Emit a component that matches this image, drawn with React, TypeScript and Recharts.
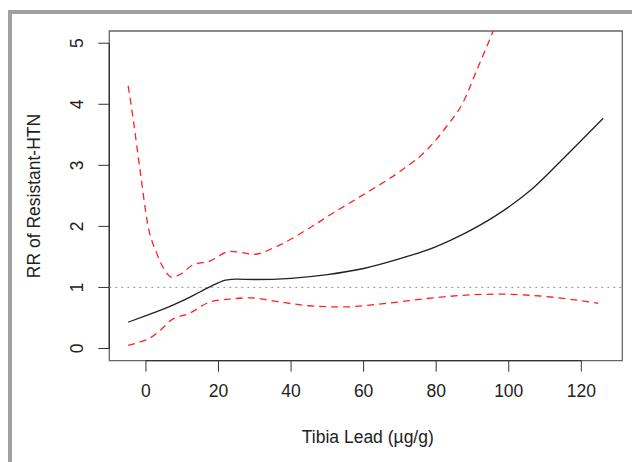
import React from 'react';
import { LineChart, Line, XAxis, YAxis, ReferenceLine, ReferenceArea } from 'recharts';

// fitted RR curve
const fitLead = [-4.9, 0, 5, 10, 15, 19, 22, 25, 30, 40, 50, 60, 70, 80, 88, 96, 106, 116, 126];
const fitRR = [0.43, 0.54, 0.65, 0.78, 0.93, 1.05, 1.12, 1.135, 1.13, 1.15, 1.21, 1.31, 1.47, 1.67, 1.89, 2.16, 2.59, 3.17, 3.77];

// upper 95% CI
const upperLead = [-4.9, -3.5, -1.65, 0.6, 2.9, 5, 7.1, 9, 13, 17.6, 23.2, 26.5, 29.6, 36, 45, 51.6, 60.8, 70, 77.4, 82.9, 87.5, 91.2, 95.3, 96.5];
const upperRR = [4.3, 3.75, 2.93, 2.0, 1.57, 1.3, 1.17, 1.2, 1.37, 1.43, 1.59, 1.57, 1.54, 1.67, 1.97, 2.22, 2.55, 2.9, 3.25, 3.64, 4.04, 4.56, 5.14, 5.32];

// lower 95% CI
const lowerLead = [-4.9, -2, 1.1, 4, 6.6, 12.1, 17.6, 23.2, 28.7, 36, 45, 54.4, 66.4, 79.2, 90.3, 97.6, 108.6, 124.7];
const lowerRR = [0.05, 0.1, 0.17, 0.3, 0.45, 0.58, 0.76, 0.81, 0.83, 0.77, 0.7, 0.68, 0.74, 0.83, 0.88, 0.89, 0.86, 0.74];

const xTicks = [0, 20, 40, 60, 80, 100, 120];
const yTicks = [0, 1, 2, 3, 4, 5];

const toRows = (xs: number[], ys: number[]) => xs.map((lead, i) => ({ lead, rr: ys[i] }));

const fitData = toRows(fitLead, fitRR);
const upperData = toRows(upperLead, upperRR);
const lowerData = toRows(lowerLead, lowerRR);

const FONT = '"Liberation Sans", Arial, sans-serif';
const X_DOMAIN: [number, number] = [-10.1, 131.3];
const Y_DOMAIN: [number, number] = [-0.2, 5.2];

function RotatedTick(props: any) {
  const { x, y, payload } = props;
  return (
    <text
      x={x}
      y={y}
      transform={`rotate(-90, ${x}, ${y})`}
      textAnchor="middle"
      fontSize={17.5}
      fontFamily={FONT}
      fill="#222"
    >
      {payload.value}
    </text>
  );
}

export default function App() {
  return (
    <div style={{ position: 'fixed', left: 0, top: 0, width: 632, height: 462, background: '#fff', overflow: 'hidden' }}>
      <div
        style={{
          position: 'absolute',
          left: 8,
          top: 10,
          width: 640,
          height: 470,
          borderLeft: '4px solid #a0a0a0',
          borderTop: '4px solid #a0a0a0',
          boxSizing: 'border-box',
        }}
      />
      <div style={{ position: 'absolute', left: 0, top: 0 }}>
        <LineChart width={632} height={462} margin={{ top: 31, right: 9.7, bottom: 61.3, left: 0 }}>
          <XAxis
            type="number"
            dataKey="lead"
            domain={X_DOMAIN}
            allowDataOverflow
            ticks={xTicks}
            height={40}
            axisLine={false}
            tickLine={{ stroke: '#333' }}
            tickSize={11}
            tickMargin={13}
            tick={{ fontSize: 17.5, fontFamily: FONT, fill: '#222' }}
          />
          <YAxis
            type="number"
            domain={Y_DOMAIN}
            allowDataOverflow
            ticks={yTicks}
            width={109.3}
            axisLine={false}
            tickLine={{ stroke: '#333' }}
            tickSize={11}
            tickMargin={15}
            tick={<RotatedTick />}
          />
          <ReferenceArea
            x1={X_DOMAIN[0]}
            x2={X_DOMAIN[1]}
            y1={Y_DOMAIN[0]}
            y2={Y_DOMAIN[1]}
            fill="none"
            stroke="#666"
            strokeWidth={1.3}
            ifOverflow="visible"
          />
          <ReferenceLine
            segment={[{ x: 0, y: Y_DOMAIN[0] }, { x: 120, y: Y_DOMAIN[0] }]}
            stroke="#333"
            strokeWidth={1.3}
            ifOverflow="visible"
          />
          <ReferenceLine
            segment={[{ x: X_DOMAIN[0], y: 0 }, { x: X_DOMAIN[0], y: 5 }]}
            stroke="#333"
            strokeWidth={1.3}
            ifOverflow="visible"
          />
          <ReferenceLine y={1} stroke="#999" strokeDasharray="2 4" />
          <Line
            data={upperData}
            dataKey="rr"
            type="monotone"
            stroke="#ff2020"
            strokeWidth={1.3}
            strokeDasharray="7 5"
            dot={false}
            activeDot={false}
            isAnimationActive={false}
          />
          <Line
            data={lowerData}
            dataKey="rr"
            type="monotone"
            stroke="#ff2020"
            strokeWidth={1.3}
            strokeDasharray="7 5"
            dot={false}
            activeDot={false}
            isAnimationActive={false}
          />
          <Line
            data={fitData}
            dataKey="rr"
            type="monotone"
            stroke="#222"
            strokeWidth={1.3}
            dot={false}
            activeDot={false}
            isAnimationActive={false}
          />
        </LineChart>
      </div>
      <div
        style={{
          position: 'absolute',
          left: 367.8 - 150,
          top: 426.7,
          width: 300,
          lineHeight: '20px',
          textAlign: 'center',
          fontSize: 17.5,
          fontFamily: FONT,
          color: '#222',
        }}
      >
        Tibia Lead (µg/g)
      </div>
      <div
        style={{
          position: 'absolute',
          left: 34 - 150,
          top: 196 - 10,
          width: 300,
          lineHeight: '20px',
          textAlign: 'center',
          fontSize: 17.5,
          fontFamily: FONT,
          color: '#222',
          transform: 'rotate(-90deg)',
        }}
      >
        RR of Resistant-HTN
      </div>
    </div>
  );
}
